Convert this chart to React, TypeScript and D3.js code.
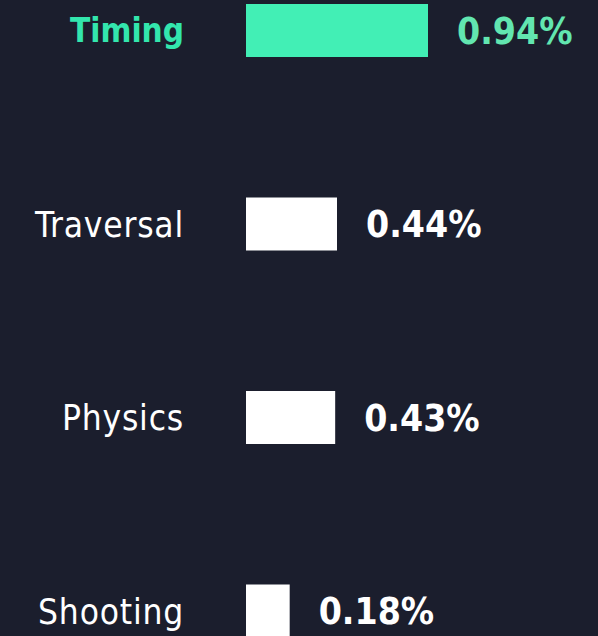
import { useEffect, useRef } from "react";
import * as d3 from "d3";

const categories = ["Timing", "Traversal", "Physics", "Shooting"];
const values = [0.94, 0.44, 0.43, 0.18];
const valueLabels = ["0.94%", "0.44%", "0.43%", "0.18%"];
const highlight = "Timing";

const WIDTH = 598;
const HEIGHT = 636;
const BAR_H = 53;

export default function App() {
  const ref = useRef<SVGSVGElement>(null);

  useEffect(() => {
    document.body.style.margin = "0";
    document.body.style.background = "#1b1e2d";

    const svg = d3.select(ref.current);
    svg.selectAll("*").remove();

    const data = categories.map((c, i) => ({ cat: c, value: values[i], label: valueLabels[i] }));

    // row centres, last one runs off the bottom edge
    const y = d3.scalePoint().domain(categories).range([30.5, 611]);
    const x = d3.scaleLinear().domain([-0.06, 0.94]).range([246, 428]);

    svg.append("rect").attr("width", WIDTH).attr("height", HEIGHT).attr("fill", "#1b1e2d");

    const row = svg
      .selectAll("g.row")
      .data(data)
      .join("g")
      .attr("class", "row");

    row
      .append("rect")
      .attr("x", x(-0.06))
      .attr("y", (d) => y(d.cat)! - BAR_H / 2)
      .attr("width", (d) => x(d.value) - x(-0.06))
      .attr("height", BAR_H)
      .attr("fill", (d) => (d.cat === highlight ? "#42efb5" : "#ffffff"));

    row
      .append("text")
      .attr("x", 184)
      .attr("y", (d) => y(d.cat)!)
      .attr("dy", "0.36em")
      .attr("text-anchor", "end")
      .attr("font-family", "'DejaVu Sans Condensed', 'DejaVu Sans', sans-serif")
      .attr("font-size", (d) => (d.cat === highlight ? 33 : 35))
      .attr("letter-spacing", (d) => (d.cat === highlight ? 0 : 0.8))
      .attr("font-weight", (d) => (d.cat === highlight ? 700 : 400))
      .attr("fill", (d) => (d.cat === highlight ? "#33e6ad" : "#ffffff"))
      .text((d) => d.cat);

    row
      .append("text")
      .attr("x", (d) => x(d.value) + 29)
      .attr("y", (d) => y(d.cat)!)
      .attr("dy", "0.36em")
      .attr("font-family", "'DejaVu Sans Condensed', 'DejaVu Sans', sans-serif")
      .attr("font-size", 37)
      .attr("font-weight", 700)
      .attr("fill", (d) => (d.cat === highlight ? "#62e6b0" : "#ffffff"))
      .text((d) => d.label);
  }, []);

  return <svg ref={ref} width={WIDTH} height={HEIGHT} style={{ display: "block" }} />;
}
